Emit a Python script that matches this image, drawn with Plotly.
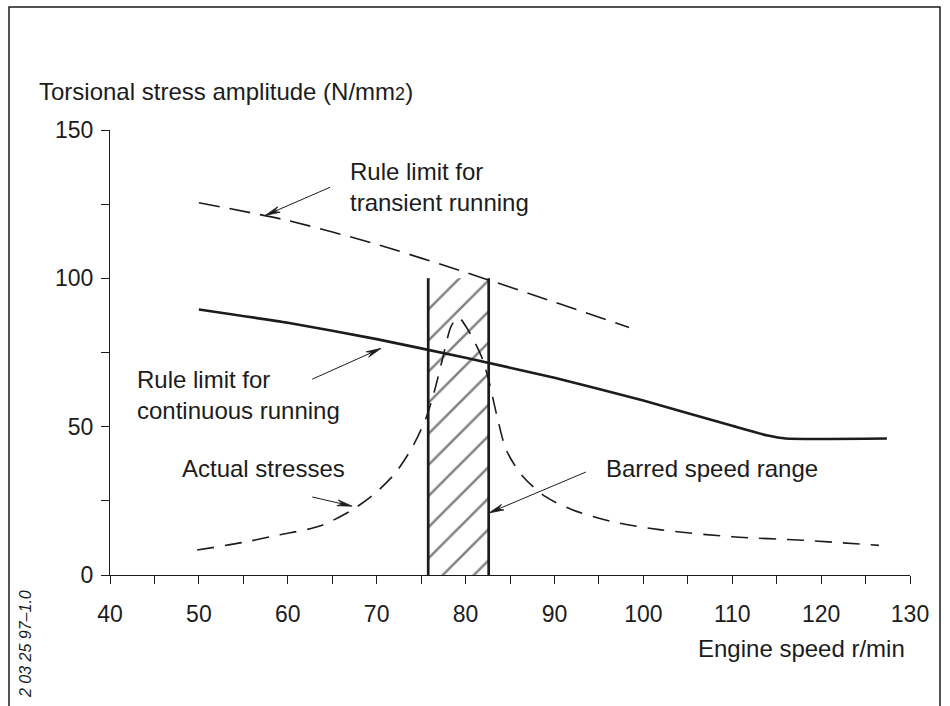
import math
import plotly.graph_objects as go

# Engine speed (r/min) and torsional stress amplitude (N/mm2)
transient_speed = [50, 60, 70, 80, 90, 98.4]
transient_limit = [125.5, 119.5, 111.5, 102, 92, 83.4]

continuous_speed = [50, 60, 70, 80, 90, 100, 110, 114, 116, 127.4]
continuous_limit = [89.5, 85, 79.5, 73.2, 66.5, 58.8, 50.3, 47, 46, 46]

actual_speed = [49.8, 55, 59, 63.6, 67, 69.6, 72, 74, 75.5, 76.5, 77.5, 78.4, 79.2,
                80.3, 81.8, 82.6, 83.5, 84.6, 86.5, 89, 92, 96.5, 102, 110, 118, 126.5]
actual_stress = [8.4, 11, 13.5, 16.5, 21.5, 27, 34, 43, 52.5, 62, 74, 84, 86.8,
                 82.5, 73.6, 65.7, 54, 42, 33, 26.4, 22, 18, 15.2, 12.9, 11.7, 10]

barred_range = [75.8, 82.6]
barred_top = 100

x_range = [40, 130]
y_range = [0, 150]
x_ticks = list(range(40, 131, 10))
y_ticks = [0, 50, 100, 150]

# callouts: text, text anchor (left, middle), arrow tail, arrow tip (data units)
callout_text = ["Rule limit for<br>transient running",
                "Rule limit for<br>continuous running",
                "Actual stresses",
                "Barred speed range"]
callout_anchor = [(66.8, 130.7), (42.85, 60.6), (47.9, 36.0), (95.55, 36.0)]
callout_tail = [(64.76, 130.7), (62.75, 66.0), (62.75, 26.3), (93.53, 34.7)]
callout_tip = [(57.46, 121.2), (70.5, 76.4), (67.24, 23.2), (82.63, 20.9)]

INK = "#1c1c1c"
FONT = "Liberation Sans, Arial, sans-serif"

W, H = 950, 706
L, R, T, B = 110, 40, 130, 131
pw, ph = W - L - R, H - T - B
kx = pw / (x_range[1] - x_range[0])   # pixels per r/min
ky = ph / (y_range[1] - y_range[0])   # pixels per N/mm2

fig = go.Figure()

# hatched barred speed range
fig.add_trace(go.Bar(
    x=[(barred_range[0] + barred_range[1]) / 2],
    y=[barred_top],
    width=[barred_range[1] - barred_range[0]],
    marker=dict(color="white", line=dict(width=0),
                pattern=dict(shape="/", size=22, solidity=0.11,
                             fgcolor="#000000", bgcolor="white", fillmode="overlay")),
    showlegend=False, hoverinfo="skip",
))
for xb in barred_range:
    fig.add_trace(go.Scatter(x=[xb, xb], y=[0, barred_top], mode="lines",
                             line=dict(color=INK, width=2.7),
                             showlegend=False, hoverinfo="skip"))

fig.add_trace(go.Scatter(x=transient_speed, y=transient_limit, mode="lines",
                         line=dict(color=INK, width=1.6, dash="21px,10px",
                                   shape="spline", smoothing=0.6),
                         showlegend=False))
fig.add_trace(go.Scatter(x=continuous_speed, y=continuous_limit, mode="lines",
                         line=dict(color=INK, width=2.6, shape="spline", smoothing=0.5),
                         showlegend=False))
fig.add_trace(go.Scatter(x=actual_speed, y=actual_stress, mode="lines",
                         line=dict(color=INK, width=1.6, dash="17px,11px",
                                   shape="spline", smoothing=0.8),
                         showlegend=False))

label_font = dict(family=FONT, size=24, color=INK)

# leader arrows with long narrow heads, built in pixel space and mapped back
HEAD_LEN, HEAD_HALF, NOTCH = 15, 3.0, 10
for (x0, y0), (x1, y1) in zip(callout_tail, callout_tip):
    dx, dy = (x1 - x0) * kx, (y1 - y0) * ky
    n = math.hypot(dx, dy)
    ux, uy = dx / n, dy / n
    vx, vy = -uy, ux

    def back(a, b):
        return x1 + (-a * ux + b * vx) / kx, y1 + (-a * uy + b * vy) / ky

    sx, sy = back(NOTCH, 0)
    fig.add_trace(go.Scatter(x=[x0, sx], y=[y0, sy], mode="lines",
                             line=dict(color=INK, width=1.0),
                             showlegend=False, hoverinfo="skip"))
    pts = [(x1, y1), back(HEAD_LEN, HEAD_HALF), back(NOTCH, 0),
           back(HEAD_LEN, -HEAD_HALF), (x1, y1)]
    fig.add_trace(go.Scatter(x=[p[0] for p in pts], y=[p[1] for p in pts],
                             mode="lines", fill="toself", fillcolor=INK,
                             line=dict(color=INK, width=0.8),
                             showlegend=False, hoverinfo="skip"))

for text, (tx, ty) in zip(callout_text, callout_anchor):
    fig.add_annotation(x=tx, y=ty, xref="x", yref="y", text=text, showarrow=False,
                       xanchor="left", yanchor="middle", align="left", font=label_font)


def px(x, y):
    """Pixel position on the page -> paper coordinates."""
    return (x - L) / pw, (H - B - y) / ph


tx, ty = px(37, 92)
fig.add_annotation(x=tx, y=ty, xref="paper", yref="paper", text=
                   "Torsional stress amplitude (N/mm<span style='font-size:18px'>2</span>)",
                   showarrow=False, xanchor="left", yanchor="middle", font=label_font)
tx, ty = px(907, 648)
fig.add_annotation(x=tx, y=ty, xref="paper", yref="paper", text="Engine speed r/min",
                   showarrow=False, xanchor="right", yanchor="middle", font=label_font)
tx, ty = px(25.5, 644.5)
fig.add_annotation(x=tx, y=ty, xref="paper", yref="paper",
                   text="<i>2 03 25 97\u20131.0</i>", showarrow=False,
                   textangle=-90, xanchor="center", yanchor="middle",
                   font=dict(family=FONT, size=16, color=INK))

# frame around the figure (open at the bottom)
fx0, fy0 = px(9, 7)
fx1, _ = px(940, 7)
fig.add_shape(type="path", xref="paper", yref="paper",
              path=f"M {fx0},-1 L {fx0},{fy0} L {fx1},{fy0} L {fx1},-1",
              line=dict(color=INK, width=1.5))

axis_common = dict(showgrid=False, zeroline=False, showline=True, linecolor=INK,
                   linewidth=1.1, ticks="outside", ticklen=8, tickwidth=1.1,
                   tickcolor=INK, tickfont=dict(family=FONT, size=23, color=INK))
fig.update_xaxes(range=x_range, tickvals=x_ticks,
                 minor=dict(dtick=5, ticks="outside", ticklen=8, tickwidth=1.1,
                            tickcolor=INK),
                 ticklabelstandoff=10, **axis_common)
fig.update_yaxes(range=y_range, tickvals=y_ticks,
                 minor=dict(dtick=25, ticks="outside", ticklen=8, tickwidth=1.1,
                            tickcolor=INK),
                 ticklabelstandoff=3, **axis_common)

fig.update_layout(width=W, height=H, margin=dict(l=L, r=R, t=T, b=B),
                  plot_bgcolor="white", paper_bgcolor="white", showlegend=False,
                  font=dict(family=FONT, color=INK))

fig.write_html("out.html")
